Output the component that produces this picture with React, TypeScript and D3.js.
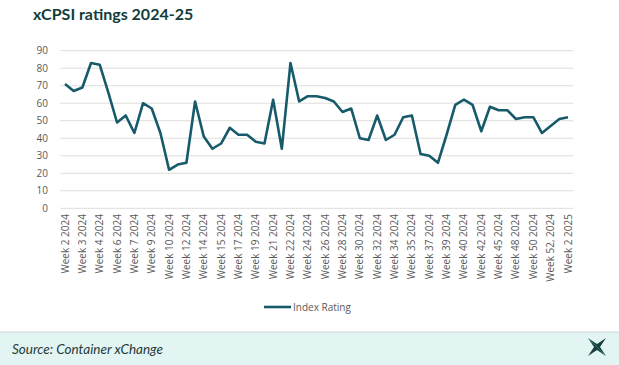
import * as d3 from "d3";
import { useEffect, useRef } from "react";

// one value per survey week, labels shown on every other point
const ratings = [
  71, 67, 69, 83, 82, 66, 49, 53, 43, 60, 57, 43, 22, 25, 26, 61, 41, 34, 37, 46,
  42, 42, 38, 37, 62, 34, 83, 61, 64, 64, 63, 61, 55, 57, 40, 39, 53, 39, 42, 52,
  53, 31, 30, 26, 42, 59, 62, 59, 44, 58, 56, 56, 51, 52, 52, 43, 47, 51, 52,
];

const weekLabels = [
  "Week 2 2024", "Week 3 2024", "Week 4 2024", "Week 6 2024", "Week 7 2024",
  "Week 9 2024", "Week 10 2024", "Week 12 2024", "Week 14 2024", "Week 15 2024",
  "Week 17 2024", "Week 19 2024", "Week 21 2024", "Week 22 2024", "Week 24 2024",
  "Week 26 2024", "Week 28 2024", "Week 30 2024", "Week 32 2024", "Week 34 2024",
  "Week 35 2024", "Week 37 2024", "Week 39 2024", "Week 40 2024", "Week 42 2024",
  "Week 45 2024", "Week 48 2024", "Week 50 2024", "Week 52, 2024", "Week 2 2025",
];

const yTicks = [0, 10, 20, 30, 40, 50, 60, 70, 80, 90];

const seriesName = "Index Rating";
const title = "xCPSI ratings 2024-25";
const source = "Source: Container xChange";

export default function App() {
  const ref = useRef<SVGSVGElement>(null);

  useEffect(() => {
    if (!ref.current) return;
    const svg = d3.select(ref.current);
    svg.selectAll("*").remove();

    const width = 619;
    const height = 365;
    const font = "'Open Sans', sans-serif";

    svg.append("rect").attr("width", width).attr("height", height).attr("fill", "#fff");

    svg
      .append("text")
      .attr("x", 33)
      .attr("y", 20)
      .attr("font-family", "Lato, sans-serif")
      .attr("font-weight", 700)
      .attr("font-size", 16)
      .attr("fill", "#123c3a")
      .text(title);

    const x = d3
      .scalePoint<number>()
      .domain(d3.range(ratings.length))
      .range([65, 568]);
    const y = d3.scaleLinear().domain([0, 90]).range([208.3, 50.7]);

    // gridlines
    svg
      .append("g")
      .selectAll("line")
      .data(yTicks)
      .join("line")
      .attr("x1", 60)
      .attr("x2", 573)
      .attr("y1", (d) => y(d))
      .attr("y2", (d) => y(d))
      .attr("stroke", "#dedede")
      .attr("stroke-width", 1);

    svg
      .append("g")
      .selectAll("text")
      .data(yTicks)
      .join("text")
      .attr("x", 48)
      .attr("y", (d) => y(d))
      .attr("dy", "0.35em")
      .attr("text-anchor", "end")
      .attr("font-family", font)
      .attr("font-size", 10)
      .attr("fill", "#595959")
      .text((d) => d);

    // x labels, rotated, one per two points
    svg
      .append("g")
      .selectAll("text")
      .data(weekLabels)
      .join("text")
      .attr("transform", (_, i) => `translate(${(x(i * 2) ?? 0) + 3.5},${214}) rotate(-90)`)
      .attr("text-anchor", "end")
      .attr("font-family", font)
      .attr("font-size", 10)
      .attr("fill", "#595959")
      .text((d) => d);

    const line = d3
      .line<number>()
      .x((_, i) => x(i) ?? 0)
      .y((d) => y(d));

    svg
      .append("path")
      .datum(ratings)
      .attr("fill", "none")
      .attr("stroke", "#175b6b")
      .attr("stroke-width", 2.6)
      .attr("stroke-linejoin", "round")
      .attr("d", line);

    // legend
    svg
      .append("line")
      .attr("x1", 264)
      .attr("x2", 291)
      .attr("y1", 307)
      .attr("y2", 307)
      .attr("stroke", "#175b6b")
      .attr("stroke-width", 2.6);
    svg
      .append("text")
      .attr("x", 293)
      .attr("y", 307)
      .attr("dy", "0.35em")
      .attr("font-family", font)
      .attr("font-size", 10)
      .attr("fill", "#595959")
      .text(seriesName);

    // footer band
    svg
      .append("rect")
      .attr("x", 0)
      .attr("y", 332)
      .attr("width", width)
      .attr("height", height - 332)
      .attr("fill", "#e3f5f3");
    svg
      .append("line")
      .attr("x1", 0)
      .attr("x2", width)
      .attr("y1", 332)
      .attr("y2", 332)
      .attr("stroke", "#cfd8d7")
      .attr("stroke-width", 1.2);
    svg
      .append("text")
      .attr("x", 12)
      .attr("y", 354)
      .attr("font-family", "Lato, sans-serif")
      .attr("font-style", "italic")
      .attr("font-size", 13.5)
      .attr("fill", "#1e3b3a")
      .text(source);

    // logo: four pointed star
    const lx = 597;
    const ly = 347;
    const r = 9;
    const k = 3;
    const star = [
      [lx - r, ly - r], [lx, ly - k], [lx + r, ly - r], [lx + k, ly],
      [lx + r, ly + r], [lx, ly + k], [lx - r, ly + r], [lx - k, ly],
    ];
    svg
      .append("path")
      .attr("d", d3.line()(star as [number, number][]) + "Z")
      .attr("fill", "#173f3b");
    svg
      .append("path")
      .attr("d", `M${lx - r + 1},${ly - r + 1}L${lx + r - 1},${ly + r - 1}`)
      .attr("stroke", "#2f8a7a")
      .attr("stroke-width", 0.8);
  }, []);

  return (
    <svg
      ref={ref}
      width={619}
      height={365}
      style={{ position: "absolute", left: 0, top: 0, display: "block" }}
      role="img"
      aria-label="xCPSI ratings 2024-25"
    />
  );
}
